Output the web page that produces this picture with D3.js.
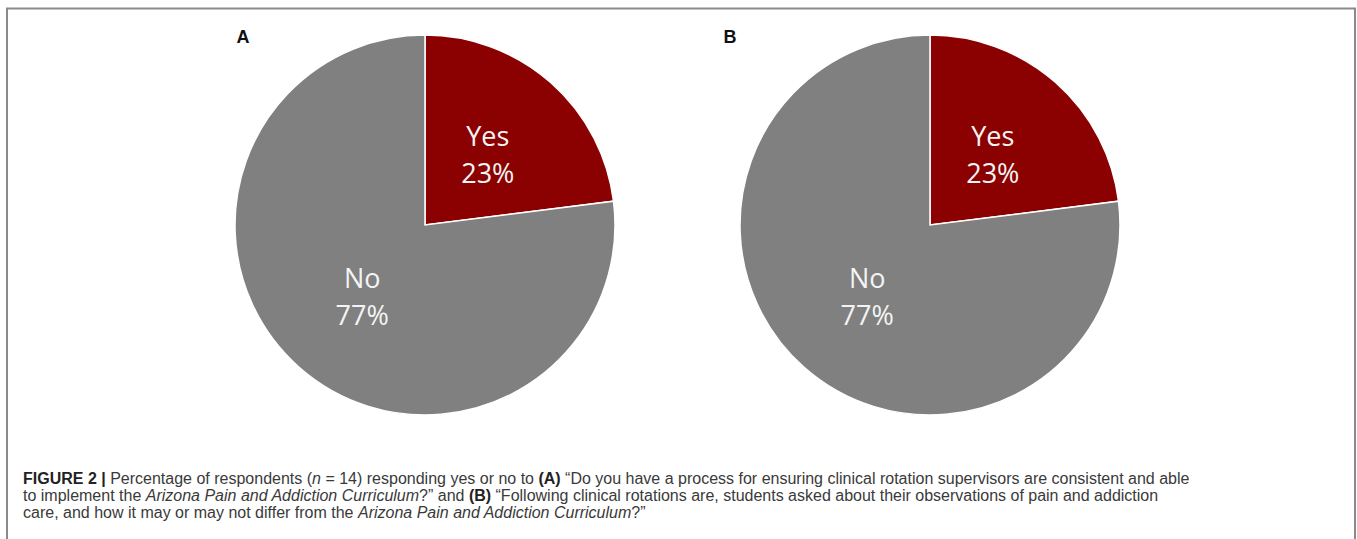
<!DOCTYPE html>
<html>
<head>
<meta charset="utf-8">
<script src="https://cdn.jsdelivr.net/npm/d3@7"></script>
<style>
  html, body { margin: 0; padding: 0; background: #fff; }
  svg { display: block; }
</style>
</head>
<body>
<svg id="chart" width="1357" height="539"></svg>
<script>
// ---- data ----
const panels = ["A", "B"];
const categories = ["Yes", "No"];
const valuesA = [23, 77];
const valuesB = [23, 77];
const seriesValues = [valuesA, valuesB];
const colors = ["#8b0000", "#808080"];
const captionLines = [
  [{t: "FIGURE 2 | ", b: true}, {t: "Percentage of respondents ("}, {t: "n", i: true}, {t: " = 14) responding yes or no to "}, {t: "(A)", b: true}, {t: " \u201cDo you have a process for ensuring clinical rotation supervisors are consistent and able"}],
  [{t: "to implement the "}, {t: "Arizona Pain and Addiction Curriculum", i: true}, {t: "?\u201d and "}, {t: "(B)", b: true}, {t: " \u201cFollowing clinical rotations are, students asked about their observations of pain and addiction"}],
  [{t: "care, and how it may or may not differ from the "}, {t: "Arizona Pain and Addiction Curriculum", i: true}, {t: "?\u201d"}]
];

const svg = d3.select("#chart");

// frame
svg.append("path")
  .attr("d", "M7,539 V8.5 H1355 V539")
  .attr("fill", "none")
  .attr("stroke", "#8a8a8a")
  .attr("stroke-width", 2);

const r = 190;
const centers = d3.scalePoint().domain(panels).range([425, 930]);
const cy = 225;

const pie = d3.pie().sort(null).value(d => d.v);
const arc = d3.arc().innerRadius(0).outerRadius(r);
const color = d3.scaleOrdinal().domain(categories).range(colors);

panels.forEach((p, pi) => {
  const data = categories.map((c, i) => ({c, v: seriesValues[pi][i]}));
  const g = svg.append("g").attr("transform", `translate(${centers(p)},${cy})`);
  const arcs = pie(data);
  g.selectAll("path.slice").data(arcs).enter().append("path")
    .attr("class", "slice")
    .attr("d", arc)
    .attr("fill", d => color(d.data.c))
    .attr("stroke", "#ffffff")
    .attr("stroke-width", 1.5)
    .attr("stroke-linejoin", "miter");
  const lab = g.selectAll("text.lab").data(arcs).enter().append("text")
    .attr("class", "lab")
    .attr("transform", d => { const c = arc.centroid(d); return `translate(${c[0]},${c[1]})`; })
    .attr("text-anchor", "middle")
    .attr("font-family", "'Open Sans', 'Noto Sans', sans-serif")
    .attr("font-size", 27)
    .attr("fill", "#f4f4f4");
  lab.append("tspan").attr("x", 0).attr("dy", "-0.3em").text(d => d.data.c);
  lab.append("tspan").attr("x", 0).attr("dy", "1.37em").text(d => d.data.v + "%");

  svg.append("text")
    .attr("x", centers(p) - (pi === 0 ? 182 : 200))
    .attr("y", 43)
    .attr("text-anchor", "middle")
    .attr("font-family", "'Liberation Sans', Arial, sans-serif")
    .attr("font-weight", "bold")
    .attr("font-size", 18)
    .attr("fill", "#111")
    .text(p);
});

// caption
const cap = svg.append("g");
const baselines = [484, 501, 518];
captionLines.forEach((line, li) => {
  const t = cap.append("text")
    .attr("x", 23)
    .attr("y", baselines[li])
    .attr("font-family", "'Liberation Sans', Arial, sans-serif")
    .attr("font-size", 16)
    .attr("fill", "#3a3a3a");
  line.forEach(s => {
    t.append("tspan")
      .attr("font-weight", s.b ? "bold" : null)
      .attr("font-style", s.i ? "italic" : null)
      .attr("fill", s.b ? "#222" : null)
      .text(s.t);
  });
});
</script>
</body>
</html>
